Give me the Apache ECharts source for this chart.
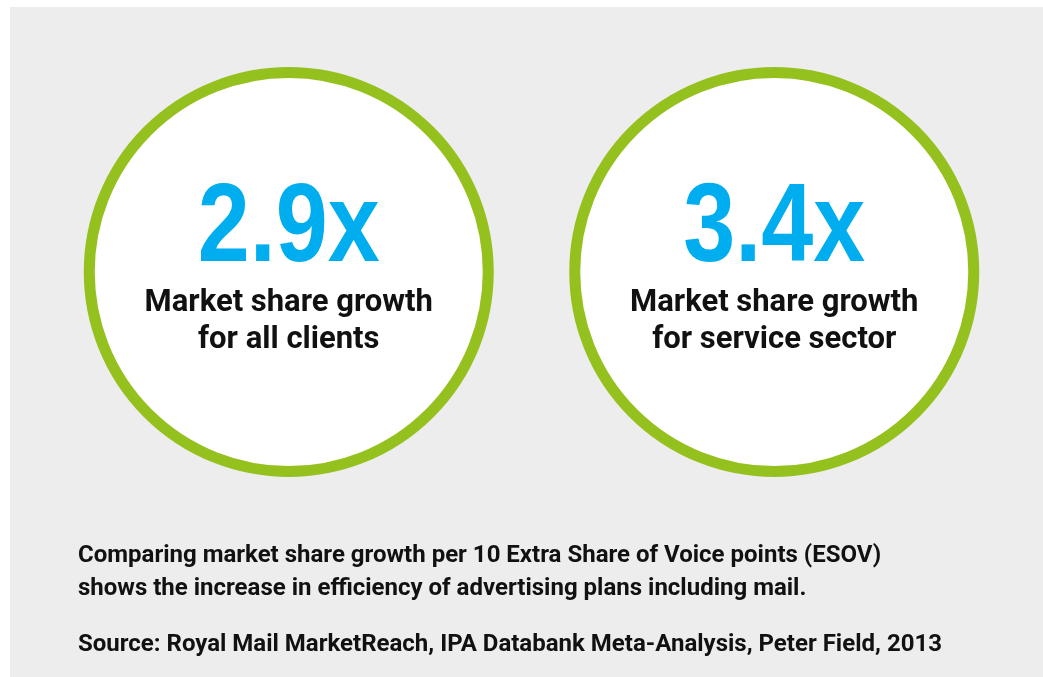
<!DOCTYPE html>
<html>
<head>
<meta charset="utf-8">
<script src="https://cdn.jsdelivr.net/npm/echarts@6/dist/echarts.min.js"></script>
<style>
  html, body { margin: 0; padding: 0; background: #ffffff; }
  #chart { position: absolute; left: 10px; top: 7px; width: 1033px; height: 670px; }
</style>
</head>
<body>
<div id="chart"></div>
<script>
// ---- data ----
const categories = ['All clients', 'Service sector'];
const multipliers = [2.9, 3.4];
const captionLine1 = ['Market share growth', 'Market share growth'];
const captionLine2 = ['for all clients', 'for service sector'];
const footnotes = [
  'Comparing market share growth per 10 Extra Share of Voice points (ESOV)',
  'shows the increase in efficiency of advertising plans including mail.',
  'Source: Royal Mail MarketReach, IPA Databank Meta-Analysis, Peter Field, 2013'
];

const GREEN = '#95C11F';
const BLUE = '#00AEEF';
const TEXT = '#111111';
const bodyFont = 'Roboto, "Liberation Sans", sans-serif';

const chart = echarts.init(document.getElementById('chart'), null, { renderer: 'canvas' });

const footGraphics = footnotes.map((t, i) => ({
  type: 'text',
  x: 68,
  y: [549, 582, 638][i],
  style: {
    text: t,
    font: 'bold 24px ' + bodyFont,
    fill: TEXT,
    textAlign: 'left',
    textVerticalAlign: 'middle'
  }
}));

const option = {
  backgroundColor: '#EDEDED',
  animation: false,
  grid: { left: 36, width: 971, top: 215, height: 100 },
  xAxis: { type: 'category', data: categories, show: false, boundaryGap: true },
  yAxis: { type: 'category', data: ['row'], show: false },
  series: [{
    type: 'scatter',
    symbol: 'circle',
    symbolSize: 399,
    itemStyle: { color: '#ffffff', borderColor: GREEN, borderWidth: 11, opacity: 1 },
    emphasis: { disabled: true },
    data: categories.map((c) => [c, 'row']),
    label: {
      show: true,
      position: 'inside',
      offset: [0, 50],
      align: 'center',
      formatter: function (p) {
        const i = p.dataIndex;
        return '{t|' + captionLine1[i] + '}\n{t|' + captionLine2[i] + '}';
      },
      rich: {
        t: { fontFamily: bodyFont, fontWeight: 'bold', fontSize: 31, lineHeight: 37, color: TEXT, align: 'center' }
      }
    }
  }],
  graphic: footGraphics
};

chart.setOption(option);

// big multiplier numbers, positioned from the series' own coordinate system
const bigGraphics = categories.map((c, i) => {
  const pt = chart.convertToPixel({ seriesIndex: 0 }, [c, 'row']);
  return {
    type: 'text',
    x: pt[0],
    y: pt[1] - 42,
    scaleX: 0.835,
    z: 10,
    style: {
      text: multipliers[i].toFixed(1) + 'x',
      font: 'bold 112px "Liberation Sans", Arial, sans-serif',
      fill: BLUE,
      textAlign: 'center',
      textVerticalAlign: 'middle'
    }
  };
});

chart.setOption({ graphic: footGraphics.concat(bigGraphics) });
</script>
</body>
</html>
